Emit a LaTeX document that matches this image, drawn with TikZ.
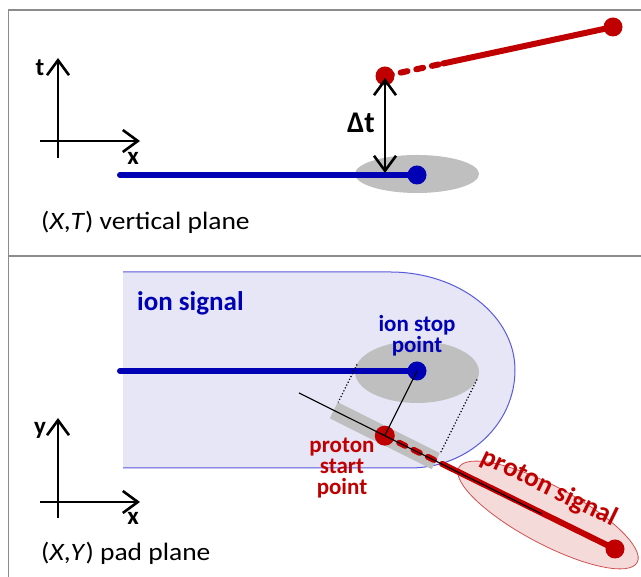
\documentclass[tikz,border=0pt]{standalone}
\usepackage{fontspec}
\setmainfont{Carlito}
\usetikzlibrary{arrows.meta,calc}
\definecolor{ionblue}{RGB}{0,0,180}
\definecolor{protred}{RGB}{192,0,0}
\definecolor{spotgray}{RGB}{191,191,191}
\definecolor{lavender}{RGB}{230,230,246}
\definecolor{laveline}{RGB}{90,90,220}
\definecolor{pinkfill}{RGB}{245,218,218}
\definecolor{pinkline}{RGB}{210,80,80}
\definecolor{framegray}{RGB}{140,140,140}
\tikzset{
  framel/.style={draw=framegray, line width=1.1pt},
  axisl/.style={line width=2.6pt, -{Straight Barb[length=15pt,width=22pt]}},
  dtarrow/.style={line width=2.6pt, {Straight Barb[length=15pt,width=22pt]}-{Straight Barb[length=15pt,width=22pt]}},
  bdot/.style={circle, fill=ionblue, minimum size=19pt, inner sep=0pt},
  rdot/.style={circle, fill=protred, minimum size=19pt, inner sep=0pt},
  bline/.style={draw=ionblue, line width=6pt, line cap=round},
  rline/.style={draw=protred, line width=6pt, line cap=round},
  rdash/.style={rline, dash pattern=on 7pt off 9pt},
  axlbl/.style={font=\fontsize{25}{25}\selectfont\bfseries, inner sep=0pt},
  plane/.style={font=\fontsize{25}{25}\selectfont, inner sep=0pt, anchor=west, xscale=1.1},
  bluelbl/.style={font=\fontsize{23}{21}\selectfont\bfseries, text=ionblue, inner sep=0pt, align=center},
  redlbl/.style={font=\fontsize{23}{21}\selectfont\bfseries, text=protred, inner sep=0pt, align=center},
}
\begin{document}
\begin{tikzpicture}[x=1pt,y=1pt]
\useasboundingbox (0,0) rectangle (641,577);
% frame
\draw[framel] (8.5,0) -- (8.5,567) -- (641,567);
\draw[framel] (8.5,321) -- (641,321);

% ===== top panel: (X,T) =====
\coordinate (tO1) at (58,419);
\coordinate (tT1) at (58,519);
\coordinate (xO1) at (40,436);
\coordinate (xT1) at (140,436);
\draw[axisl] (tO1) -- (tT1);
\draw[axisl] (xO1) -- (xT1);
\node[axlbl] (tlab) at (40,509) {t};
\node[axlbl] (xlab1) at (133,419) {x};
\node[plane] (xtplane) at (41,355) {(\textit{X},\textit{T}) vertical plane};

\fill[spotgray] (417,403) ellipse [x radius=62, y radius=19];
\node[bdot] (ionT) at (417,402) {};
\coordinate (ionTstart) at (120,402);
\draw[bline] (ionTstart) -- (ionT.center);

\node[rdot] (pstT) at (385,501) {};
\node[rdot] (pendT) at (613,550) {};
\coordinate (pmidT) at ($(pstT)!0.255!(pendT)$);
\draw[rdash] (pstT.center) -- (pmidT);
\draw[rline] (pmidT) -- (pendT.center);

\coordinate (dtTop) at (385,499);
\coordinate (dtBot) at (385,404);
\draw[dtarrow] (dtTop) -- (dtBot);
\node[font=\fontsize{30}{30}\selectfont\bfseries, inner sep=0pt] (dtlab) at (361,454) {Δt};

% ===== bottom panel: (X,Y) =====
\fill[lavender] (123,305) -- (390,305) arc[start angle=90, end angle=0, x radius=125, y radius=98]
  arc[start angle=0, end angle=-90, x radius=105, y radius=98] -- (123,109) -- cycle;
\draw[laveline, line width=1pt] (123,305) -- (390,305) arc[start angle=90, end angle=0, x radius=125, y radius=98]
  arc[start angle=0, end angle=-90, x radius=105, y radius=98] -- (123,109);
\node[font=\fontsize{27}{27}\selectfont\bfseries, text=ionblue, inner sep=0pt, anchor=west] (ionsig) at (137,274) {ion signal};

\coordinate (tO2) at (58,59);
\coordinate (tT2) at (58,159);
\coordinate (xO2) at (40,75);
\coordinate (xT2) at (140,75);
\draw[axisl] (tO2) -- (tT2);
\draw[axisl] (xO2) -- (xT2);
\node[axlbl] (ylab) at (40,147) {y};
\node[axlbl] (xlab2) at (133,59) {x};
\node[plane] (xyplane) at (41,24) {(\textit{X},\textit{Y}) pad plane};

% proton signal ellipse
\fill[pinkfill, draw=pinkline, line width=0.8pt, rotate around={-28:(548,62)}] (548,62) ellipse [x radius=101, y radius=29];

% ion stop spot
\fill[spotgray] (417,205) ellipse [x radius=62, y radius=31];
\node[bdot] (ionB) at (417,206) {};
\coordinate (ionBstart) at (120,206);
\draw[bline] (ionBstart) -- (ionB.center);
\node[bluelbl] (ionstoplab) at (417,241) {ion stop\\point};

% projection line
\coordinate (L1) at (299,184);
\coordinate (L2) at (542,63);
\coordinate (P) at ($(L1)!(ionB.center)!(L2)$);
\node[fill=spotgray, minimum width=114pt, minimum height=18pt, inner sep=0pt, rotate=-26.5] (band) at (P) {};
\coordinate (T1) at (357,212.5);
\coordinate (T2) at (477,197.5);
\draw[dotted, line width=1.2pt] (T1) -- ($($(L1)!(T1)!(L2)$)!9pt!(T1)$);
\draw[dotted, line width=1.2pt] (T2) -- ($($(L1)!(T2)!(L2)$)!9pt!(T2)$);

% proton track
\node[rdot, minimum size=20pt] (pstB) at (P) {};
\node[rdot] (pendB) at (615,28) {};
\coordinate (pmidB) at ($(pstB)!0.25!(pendB)$);
\draw[rdash] (pstB.center) -- (pmidB);
\draw[rline] (pmidB) -- (pendB.center);

\draw[line width=1.1pt] (L1) -- (L2);
\draw[line width=1.1pt] (ionB.center) -- (P);
\draw[line width=0.8pt] ($(P)!5pt!(L1)$) -- ($(P)!5pt!(L2)$);

\node[redlbl] (pstartlab) at (342,109) {proton\\start\\point};
\node[font=\fontsize{27}{27}\selectfont\bfseries, text=protred, inner sep=0pt, rotate=-26] (psiglab) at (549,89) {proton signal};
\end{tikzpicture}
\end{document}
